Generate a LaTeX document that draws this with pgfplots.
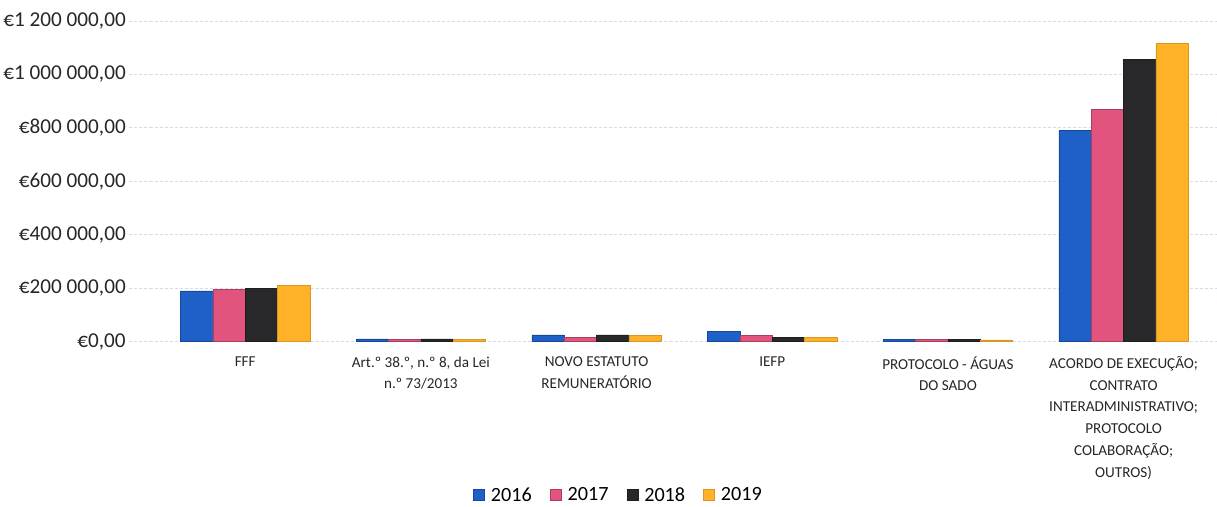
\documentclass[border=0pt]{standalone}
\usepackage{pgfplots}
\pgfplotsset{compat=1.18}
\usepackage{fontspec}
\setmainfont{Carlito}
\definecolor{c16}{RGB}{31,95,200}
\definecolor{c17}{RGB}{226,84,126}
\definecolor{c18}{RGB}{40,40,42}
\definecolor{c19}{RGB}{255,178,40}
\definecolor{gridc}{RGB}{205,222,242}
\begin{document}
\begin{tikzpicture}
\begin{axis}[
  scale only axis,
  width=1077pt, height=334pt,
  ybar=0pt, bar width=32pt,
  xmin=-0.66, xmax=5.53,
  ymin=0, ymax=1262000,
  scaled y ticks=false,
  axis line style={draw=none},
  tick style={draw=none},
  xtick={0,1,2,3,4,5},
  xticklabels={FFF,
    {Art.º 38.º, n.º 8, da Lei\\n.º 73/2013},
    {NOVO ESTATUTO\\REMUNERATÓRIO},
    IEFP,
    {PROTOCOLO - ÁGUAS\\DO SADO},
    {ACORDO DE EXECUÇÃO;\\CONTRATO\\INTERADMINISTRATIVO;\\PROTOCOLO\\COLABORAÇÃO;\\OUTROS)}},
  xticklabel style={align=center, font=\fontsize{15}{21.5}\selectfont, anchor=north, yshift=-7pt, text=black!85},
  ytick={0,200000,400000,600000,800000,1000000,1200000},
  yticklabels={€0{,}00,€200 000{,}00,€400 000{,}00,€600 000{,}00,€800 000{,}00,€1 000 000{,}00,€1 200 000{,}00},
  yticklabel style={font=\fontsize{21}{25}\selectfont, text=black!85},
  ymajorgrids, grid style={gridc, densely dashed, line width=0.6pt},
  legend style={at={(axis description cs:0.45,-0.455)}, anchor=center, draw=none,
    legend columns=4, font=\fontsize{20}{24}\selectfont,
    /tikz/every odd column/.append style={column sep=4pt},
    /tikz/every even column/.append style={column sep=16pt}},
  legend image code/.code={\fill[#1] (0pt,-5pt) rectangle (11pt,6pt);},
]
\addplot[fill=c16, draw=c16!75!black] coordinates {(0,190000) (1,10000) (2,25000) (3,38000) (4,8000) (5,790000)};
\addplot[fill=c17, draw=c17!75!black] coordinates {(0,195000) (1,9000) (2,16000) (3,22000) (4,7000) (5,870000)};
\addplot[fill=c18, draw=c18!75!black] coordinates {(0,200000) (1,10000) (2,25000) (3,15000) (4,7000) (5,1055000)};
\addplot[fill=c19, draw=c19!85!black] coordinates {(0,210000) (1,9000) (2,24000) (3,15000) (4,6000) (5,1115000)};
\legend{2016,2017,2018,2019}
\end{axis}
\end{tikzpicture}
\end{document}
